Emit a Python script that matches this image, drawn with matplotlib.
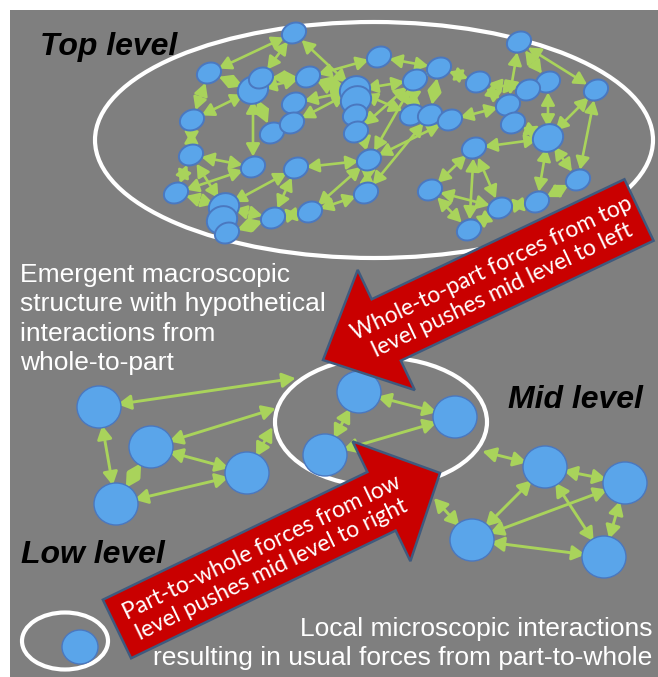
import numpy as np
import matplotlib
matplotlib.use("Agg")
import matplotlib.pyplot as plt
from matplotlib.patches import Ellipse, Polygon, FancyArrowPatch, Rectangle

# ---- top level network (pixel positions) ----
top_names = ['a', 'b', 'c', 'd', 'e', 'f', 'g', 'h', 'i', 'j', 'k', 'l', 'm', 'n',
             'o', 'p', 'q', 'r', 's', 't', 'u', 'v', 'w', 'x', 'y', 'z', 'aa', 'bb',
             'cc', 'dd', 'ee', 'ff', 'gg', 'hh', 'ii', 'jj', 'kk', 'll', 'mm', 'nn',
             'oo', 'pp', 'qq', 'rr']
top_x = [294, 209, 253, 261, 308, 294, 355, 356, 379, 439, 415, 478, 519, 548,
         528, 596, 192, 272, 292, 355, 356, 412, 430, 450, 508, 513, 548, 191,
         253, 296, 369, 474, 176, 224, 222, 227, 273, 310, 366, 430, 500, 537,
         578, 469]
top_y = [33, 73, 90, 78, 77, 103, 90, 100, 57, 68, 80, 82, 42, 82,
         90, 90, 120, 133, 123, 115, 132, 115, 115, 120, 105, 123, 138, 155,
         167, 168, 160, 148, 193, 207, 220, 233, 218, 212, 193, 190, 208, 202,
         180, 230]
top_big = ['c', 'g', 'h', 'aa', 'hh', 'ii']
top_edges = [('a', 'b'), ('a', 'd'), ('a', 'g'), ('c', 'e'), ('e', 'i'), ('i', 'j'),
             ('g', 'k'), ('j', 'l'), ('l', 'o'), ('m', 'n'), ('m', 'p'), ('m', 'y'),
             ('n', 'aa'), ('p', 'aa'), ('p', 'qq'), ('aa', 'qq'), ('aa', 'pp'),
             ('aa', 'ff'), ('ff', 'nn'), ('ff', 'rr'), ('ff', 'oo'), ('nn', 'oo'),
             ('nn', 'rr'), ('rr', 'oo'), ('oo', 'pp'), ('pp', 'qq'), ('q', 'b'),
             ('q', 'c'), ('q', 'bb'), ('c', 'r'), ('c', 'cc'), ('f', 'g'), ('s', 'g'),
             ('t', 'ee'), ('k', 'ee'), ('x', 'ee'), ('w', 'mm'), ('v', 'g'),
             ('bb', 'cc'), ('bb', 'gg'), ('bb', 'hh'), ('cc', 'gg'), ('dd', 'hh'),
             ('dd', 'kk'), ('dd', 'ee'), ('ee', 'mm'), ('ee', 'll'), ('mm', 'll'),
             ('kk', 'll'), ('hh', 'kk'), ('jj', 'kk'), ('gg', 'hh'), ('j', 'w'),
             ('v', 'k'), ('x', 'y'), ('y', 'l'), ('z', 'aa'), ('o', 'y'), ('n', 'o'),
             ('b', 'c'), ('e', 'g'), ('r', 's'), ('u', 'k'), ('h', 'e'), ('d', 'e'),
             ('k', 'j'), ('ee', 'h')]

# ---- mid and low level networks ----
low_names = ['A', 'B', 'C', 'D', 'E', 'F', 'G', 'H', 'I', 'J', 'K']
low_x = [99, 151, 116, 247, 359, 455, 325, 545, 625, 472, 604]
low_y = [407, 447, 504, 473, 392, 417, 455, 467, 483, 540, 557]
low_edges = [('A', 'C'), ('B', 'C'), ('B', 'D'), ('C', 'D'), ('E', 'F'), ('E', 'G'),
             ('G', 'F'), ('H', 'I'), ('H', 'J'), ('H', 'K'), ('I', 'J'), ('I', 'K'),
             ('J', 'K')]
# arrows that end on the mid level ring: (node, ring point x, ring point y)
ring_links = [('A', 297, 378), ('B', 277, 408), ('D', 273, 426),
              ('H', 481, 451), ('J', 433, 497)]

# ---- rings ----
rings = [(374, 140, 558, 236), (381, 422, 212, 129), (65, 641, 86, 57)]
lone_node = (80, 647)

# ---- big red arrows: tail, tip, body width, head width, head length ----
red_arrows = [((639, 210), (323, 360), 68, 133, 70),
              ((117, 629), (440, 473), 65, 133, 65)]
red_texts = ["Whole-to-part forces from top\nlevel pushes mid level to left",
             "Part-to-whole forces from low\nlevel pushes mid level to right"]
red_text_pos = [(497, 279), (267, 559)]

level_labels = ["Top level", "Mid level", "Low level"]
level_pos = [(40, 55), (508, 408), (21, 563)]

top_note = ["Emergent macroscopic", "structure with hypothetical",
            "interactions from", "whole-to-part"]
top_note_base = [282, 311, 341, 370]
low_note = ["Local microscopic interactions",
            "resulting in usual forces from part-to-whole"]
low_note_base = [636, 665]

BG = '#7f7f7f'
BLUE = '#5aa5ea'
BLUE_EDGE = '#4a78c0'
GREEN = '#a9d35b'
RED = '#c90000'

fig = plt.figure(figsize=(6.58, 6.77), dpi=100)
ax = fig.add_axes([0, 0, 1, 1])
ax.set_xlim(0, 658)
ax.set_ylim(677, 0)
ax.axis('off')
ax.add_patch(Rectangle((10, 10), 648, 667, fc=BG, ec='none', zorder=0))


def arrow(p1, p2, s1, s2, head=0.75, lw=1.9):
    # shrink values are in points (1 px = 0.72 pt here)
    style = '<|-|>,head_length=%.2f,head_width=%.2f' % (head, head * 0.55)
    ax.add_patch(FancyArrowPatch(p1, p2, arrowstyle=style, mutation_scale=10,
                                 shrinkA=s1, shrinkB=s2, color=GREEN, lw=lw,
                                 zorder=2))


top = {n: (x, y) for n, x, y in zip(top_names, top_x, top_y)}
for n1, n2 in top_edges:
    arrow(top[n1], top[n2], 7.5, 7.5)
for n in top_names:
    w, h = (31, 27) if n in top_big else (25, 20)
    ax.add_patch(Ellipse(top[n], w, h, angle=-25, fc=BLUE, ec=BLUE_EDGE, lw=1.4,
                         zorder=3))

low = {n: (x, y) for n, x, y in zip(low_names, low_x, low_y)}
for n1, n2 in low_edges:
    arrow(low[n1], low[n2], 13.5, 13.5, head=0.8, lw=2.1)
for n, rx, ry in ring_links:
    arrow(low[n], (rx, ry), 13.5, 1, head=0.8, lw=2.1)
for n in low_names:
    ax.add_patch(Ellipse(low[n], 44, 42, fc=BLUE, ec=BLUE_EDGE, lw=1.0, zorder=3))
ax.add_patch(Ellipse(lone_node, 36, 34, fc=BLUE, ec=BLUE_EDGE, lw=1.0, zorder=3))

for cx, cy, w, h in rings:
    ax.add_patch(Ellipse((cx, cy), w, h, fc='none', ec='white', lw=3, zorder=1.5))

for (tail, tip, bw, hw, hl), txt, (tx, ty) in zip(red_arrows, red_texts, red_text_pos):
    tail = np.array(tail, float)
    tip = np.array(tip, float)
    d = (tip - tail) / np.linalg.norm(tip - tail)
    p = np.array([-d[1], d[0]])
    j = tip - d * hl
    pts = [tail + p * bw / 2, j + p * bw / 2, j + p * hw / 2, tip,
           j - p * hw / 2, j - p * bw / 2, tail - p * bw / 2]
    ax.add_patch(Polygon(pts, closed=True, fc=RED, ec='#3f5a7e', lw=1.8,
                         joinstyle='miter', zorder=4))
    ang = np.degrees(np.arctan2(-d[1], d[0]))
    if ang > 90:
        ang -= 180
    if ang < -90:
        ang += 180
    ax.text(tx, ty, txt, rotation=ang, rotation_mode='anchor', ha='center',
            va='center', color='white', fontsize=16.5, family='Lato',
            linespacing=1.2, zorder=5)

for lab, (x, y) in zip(level_labels, level_pos):
    ax.text(x, y, lab, fontsize=23, fontweight='bold', fontstyle='italic',
            family='Liberation Sans', color='black', ha='left', va='baseline',
            zorder=5)

for line, yb in zip(top_note, top_note_base):
    ax.text(20, yb, line, fontsize=19, family='Liberation Sans', color='white',
            ha='left', va='baseline', zorder=5)
for line, yb in zip(low_note, low_note_base):
    ax.text(652, yb, line, fontsize=19, family='Liberation Sans', color='white',
            ha='right', va='baseline', zorder=5)

fig.savefig('out.png', dpi=100, facecolor='white')
